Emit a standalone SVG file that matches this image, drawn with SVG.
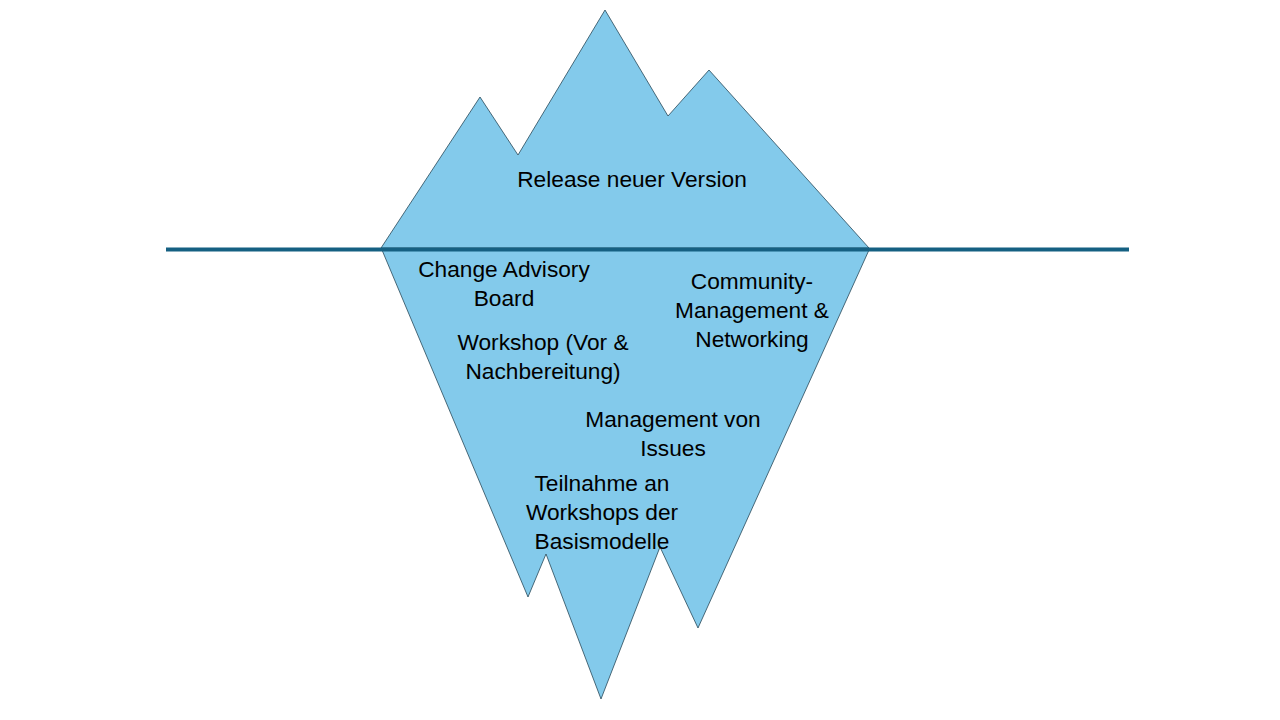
<svg xmlns="http://www.w3.org/2000/svg" width="1280" height="720" viewBox="0 0 1280 720">
<style>
.ice{fill:#83CAEB;stroke:#1f3f4f;stroke-width:0.75;stroke-linejoin:miter}
.t{font-family:"Liberation Sans",Arial,sans-serif;font-size:22.7px;fill:#000;text-anchor:middle}
</style>
<rect width="1280" height="720" fill="#fff"/>
<g id="iceberg-top">
<polygon class="ice" points="381,248 480,97 518,155 605,10 668,116 709,70 869,248"/>
</g>
<g id="iceberg-bottom">
<polygon class="ice" points="382,250 528,597 546,554 601,699 660,547 698,628 869,250"/>
</g>
<g id="waterline">
<line x1="166" y1="249.5" x2="1129" y2="249.5" stroke="#156082" stroke-width="4"/>
</g>
<g id="release"><text class="t" x="632" y="187">Release neuer Version</text></g>
<g id="cab"><text class="t" x="504" y="277">Change Advisory</text><text class="t" x="504" y="306">Board</text></g>
<g id="community"><text class="t" x="752" y="289">Community-</text><text class="t" x="752" y="318">Management &amp;</text><text class="t" x="752" y="347">Networking</text></g>
<g id="workshop"><text class="t" x="543" y="350">Workshop (Vor &amp;</text><text class="t" x="543" y="379">Nachbereitung)</text></g>
<g id="issues"><text class="t" x="673" y="427">Management von</text><text class="t" x="673" y="456">Issues</text></g>
<g id="teilnahme"><text class="t" x="602" y="491">Teilnahme an</text><text class="t" x="602" y="520">Workshops der</text><text class="t" x="602" y="549">Basismodelle</text></g>
</svg>
